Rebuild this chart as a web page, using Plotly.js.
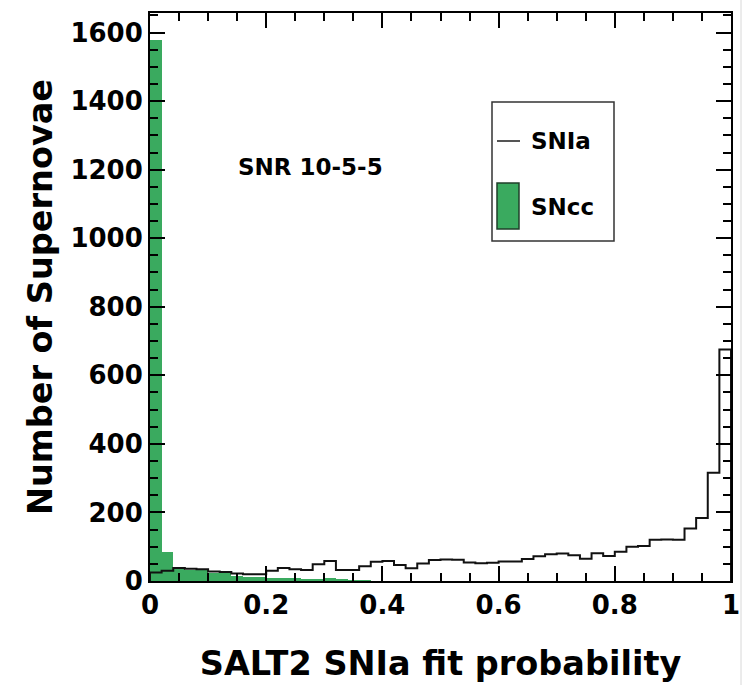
<!DOCTYPE html>
<html>
<head>
<meta charset="utf-8">
<script src="https://cdn.plot.ly/plotly-3.0.1.min.js"></script>
<style>
  html, body { margin: 0; padding: 0; background: #ffffff; }
  #chart { width: 746px; height: 685px; }
</style>
</head>
<body>
<div id="chart"></div>
<script>
// 50 bins of width 0.02 over the SALT2 fit probability [0, 1]
const binWidth = 0.02;
const binCount = 50;

// Type Ia counts per bin (open step histogram)
const snIaCounts = [
  25, 30, 38, 36, 34, 28, 26, 22, 20, 20,
  30, 38, 34, 32, 49, 58, 32, 32, 43, 56,
  58, 47, 37, 51, 61, 63, 62, 54, 52, 53,
  57, 57, 64, 72, 78, 80, 75, 65, 81, 73,
  85, 100, 102, 120, 121, 120, 153, 184, 316, 675
];

// Core-collapse counts per bin (filled histogram)
const snCcCounts = [
  1578, 85, 42, 33, 31, 24, 22, 16, 13, 11,
  10, 9, 8, 6, 7, 9, 5, 3, 2, 1,
  0, 0, 0, 0, 0, 0, 0, 0, 0, 0,
  0, 0, 0, 0, 0, 0, 0, 0, 0, 0,
  0, 0, 0, 0, 0, 0, 0, 0, 0, 0
];

const seriesNames = ['SNIa', 'SNcc'];
const xTickVals = [0, 0.2, 0.4, 0.6, 0.8, 1];
const xTickText = ['0', '0.2', '0.4', '0.6', '0.8', '1'];
const yTickVals = [0, 200, 400, 600, 800, 1000, 1200, 1400, 1600];
const yTickText = ['0', '200', '400', '600', '800', '1000', '1200', '1400', '1600'];
const annotationText = 'SNR 10-5-5';
const xTitle = 'SALT2 SNIa fit probability';
const yTitle = 'Number of Supernovae';

const green = '#3aaa5f';
const fontFamily = '"DejaVu Sans", "Liberation Sans", Arial, sans-serif';

// Bin centres for the bars, bin edges for the step outline
const centres = [];
const leftEdges = [];
for (let i = 0; i < binCount; i++) {
  leftEdges.push(i * binWidth);
  centres.push(i * binWidth + binWidth / 2);
}
const stepX = [0].concat(leftEdges, [binCount * binWidth]);
const stepY = [0].concat(snIaCounts, [0]);

const ccTrace = {
  type: 'bar',
  x: centres,
  y: snCcCounts,
  width: binWidth,
  name: seriesNames[1],
  marker: { color: green, line: { width: 0 } },
  showlegend: false
};

const iaTrace = {
  type: 'scatter',
  mode: 'lines',
  x: stepX,
  y: stepY,
  name: seriesNames[0],
  line: { color: '#111111', width: 2, shape: 'hv' },
  showlegend: false
};

// Plot area in pixels: x 150..731, y 13..581
const W = 746, H = 685;
const mL = 150, mR = 15, mT = 13, mB = 104;
const pw = W - mL - mR, ph = H - mT - mB;
const px = v => (v - mL) / pw;
const py = v => (H - mB - v) / ph;

const axisCommon = {
  showgrid: false,
  zeroline: false,
  showline: true,
  linecolor: '#000000',
  linewidth: 2,
  mirror: 'allticks',
  ticks: 'inside',
  ticklen: 15,
  tickwidth: 2,
  tickcolor: '#000000',
  layer: 'above traces',
  tickfont: { family: fontFamily, size: 26, color: '#000000', weight: 'bold' },
  fixedrange: true
};

const layout = {
  width: W,
  height: H,
  margin: { l: mL, r: mR, t: mT, b: mB },
  paper_bgcolor: '#ffffff',
  plot_bgcolor: '#ffffff',
  bargap: 0,
  barmode: 'overlay',
  showlegend: false,
  xaxis: Object.assign({}, axisCommon, {
    range: [0, 1],
    tickvals: xTickVals,
    ticktext: xTickText,
    minor: { dtick: 0.05, ticks: 'inside', ticklen: 8, tickwidth: 2, tickcolor: '#000000' },
    title: {
      text: xTitle,
      font: { family: fontFamily, size: 33.5, color: '#000000', weight: 'bold' },
      standoff: 32
    }
  }),
  yaxis: Object.assign({}, axisCommon, {
    range: [0, 1657],
    tickvals: yTickVals,
    ticktext: yTickText,
    minor: { dtick: 50, ticks: 'inside', ticklen: 8, tickwidth: 2, tickcolor: '#000000' },
    title: {
      text: yTitle,
      font: { family: fontFamily, size: 33.5, color: '#000000', weight: 'bold' },
      standoff: 8
    }
  }),
  shapes: [
    // legend frame
    { type: 'rect', xref: 'paper', yref: 'paper',
      x0: px(492), x1: px(614), y0: py(241), y1: py(102),
      line: { color: '#333333', width: 1.5 }, fillcolor: '#ffffff' },
    // SNIa line sample
    { type: 'line', xref: 'paper', yref: 'paper',
      x0: px(497), x1: px(520), y0: py(141), y1: py(141),
      line: { color: '#555555', width: 2 } },
    // SNcc fill sample
    { type: 'rect', xref: 'paper', yref: 'paper',
      x0: px(497), x1: px(519), y0: py(229), y1: py(183),
      line: { color: '#1f3f2a', width: 1.5 }, fillcolor: green },
    // thin page border on the right
    { type: 'line', xref: 'paper', yref: 'paper',
      x0: px(741), x1: px(741), y0: py(0), y1: py(685),
      line: { color: '#d8d8d8', width: 1 } }
  ],
  annotations: [
    { xref: 'paper', yref: 'paper', x: px(236), y: py(167),
      xanchor: 'left', yanchor: 'middle', showarrow: false,
      text: annotationText,
      font: { family: fontFamily, size: 23, color: '#000000', weight: 'bold' } },
    { xref: 'paper', yref: 'paper', x: px(529), y: py(141),
      xanchor: 'left', yanchor: 'middle', showarrow: false,
      text: seriesNames[0],
      font: { family: fontFamily, size: 23, color: '#000000', weight: 'bold' } },
    { xref: 'paper', yref: 'paper', x: px(529), y: py(207),
      xanchor: 'left', yanchor: 'middle', showarrow: false,
      text: seriesNames[1],
      font: { family: fontFamily, size: 23, color: '#000000', weight: 'bold' } }
  ]
};

Plotly.newPlot('chart', [ccTrace, iaTrace], layout, { displayModeBar: false, staticPlot: true });
</script>
</body>
</html>
